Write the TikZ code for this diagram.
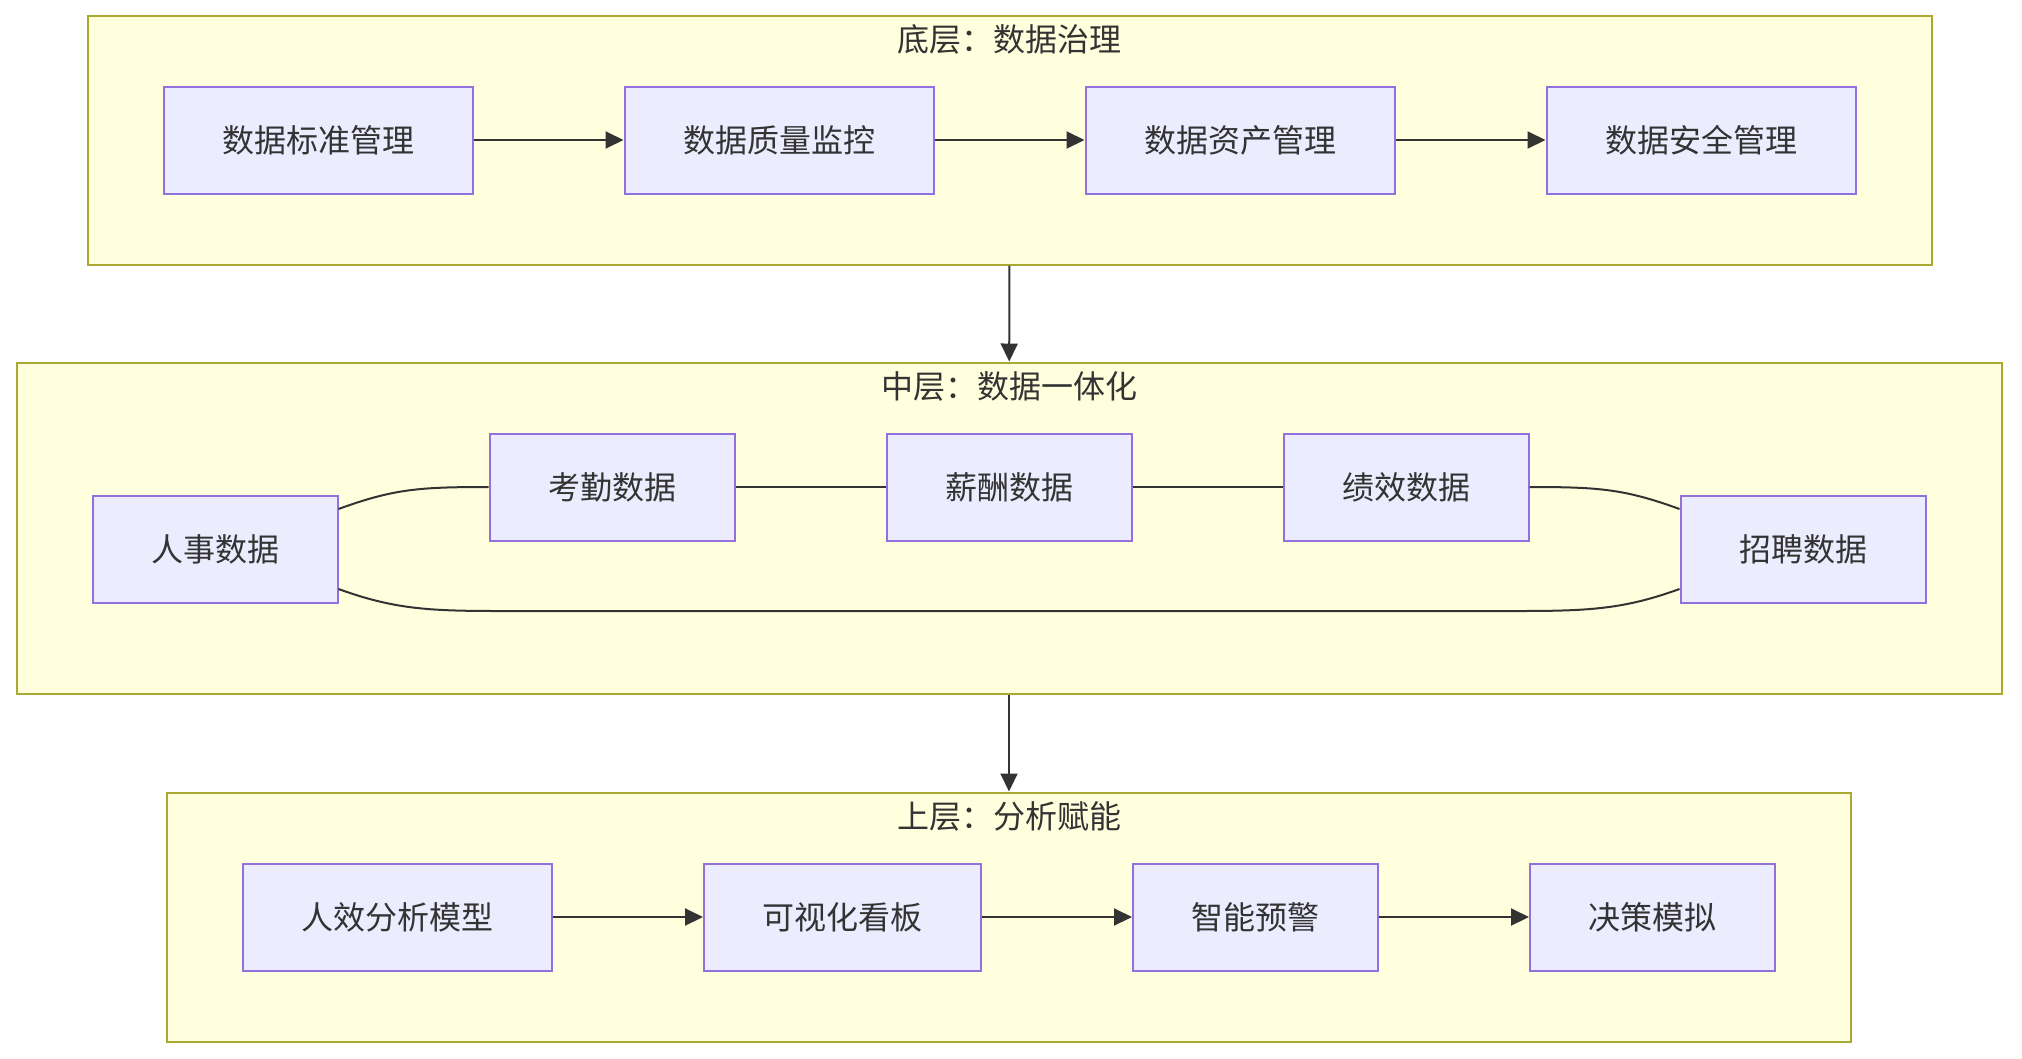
\documentclass[tikz,border=0pt]{standalone}
\usepackage{fontspec}
\newfontfamily\cjk{Noto Sans CJK SC}
\usetikzlibrary{positioning, arrows.meta, backgrounds, fit}
\definecolor{layerfill}{HTML}{FFFFDE}
\definecolor{layerline}{HTML}{AAAA33}
\definecolor{boxfill}{HTML}{ECECFF}
\definecolor{boxline}{HTML}{9370DB}
\definecolor{inkgray}{HTML}{333333}

\begin{document}
\begin{tikzpicture}[
    x=1pt, y=1pt,
    box/.style={draw=boxline, fill=boxfill, line width=2pt, rectangle, minimum height=107pt, inner xsep=58.5pt, inner ysep=0pt, text=inkgray, font=\cjk\fontsize{32}{38}\selectfont},
    layer/.style={draw=layerline, fill=layerfill, line width=2pt, rectangle, inner xsep=75pt, inner ysep=70pt},
    ltitle/.style={text=inkgray, inner sep=0pt, font=\cjk\fontsize{32}{38}\selectfont},
    arr/.style={-{Triangle[length=18pt, width=17pt]}, line width=2pt, draw=inkgray},
    link/.style={line width=2pt, draw=inkgray}
]
    \useasboundingbox (0,0) rectangle (2022,-1058);

    % Bottom layer: data governance
    \node[box] (std) at (318,-140) {数据标准管理};
    \node[box] (quality) [right=150pt of std] {数据质量监控};
    \node[box] (asset) [right=150pt of quality] {数据资产管理};
    \node[box] (secure) [right=150pt of asset] {数据安全管理};

    \draw[arr] (std) -- (quality);
    \draw[arr] (quality) -- (asset);
    \draw[arr] (asset) -- (secure);

    % Middle layer: data integration
    \node[box] (hr) at (215,-549) {人事数据};
    \node[box] (attend) at (612,-487) {考勤数据};
    \node[box] (salary) [right=150pt of attend] {薪酬数据};
    \node[box] (perf) [right=150pt of salary] {绩效数据};
    \node[box] (recruit) [right=150pt of perf, yshift=-62pt] {招聘数据};
    \coordinate (midfoot) at ([yshift=-20pt]hr.south);

    \draw[link] ([yshift=40pt]hr.east) .. controls +(55pt,20pt) and +(-70pt,0pt) .. (attend.west);
    \draw[link] (attend) -- (salary);
    \draw[link] (salary) -- (perf);
    \draw[link] (perf.east) .. controls +(70pt,0pt) and +(-55pt,20pt) .. ([yshift=40pt]recruit.west);
    \draw[link] ([yshift=-40pt]hr.east) .. controls +(55pt,-20pt) and +(-70pt,0pt) .. ([xshift=160pt,yshift=-62pt]hr.east)
        -- ([xshift=-160pt,yshift=-62pt]recruit.west) .. controls +(70pt,0pt) and +(-55pt,-20pt) .. ([yshift=-40pt]recruit.west);

    % Top layer: analytics enablement
    \node[box] (model) at (397.5,-917) {人效分析模型};
    \node[box] (board) [right=150pt of model] {可视化看板};
    \node[box] (alert) [right=150pt of board] {智能预警};
    \node[box] (decide) [right=150pt of alert] {决策模拟};

    \draw[arr] (model) -- (board);
    \draw[arr] (board) -- (alert);
    \draw[arr] (alert) -- (decide);

    % Layer frames
    \begin{scope}[on background layer]
        \node[layer, fit=(std)(secure)] (govern) {};
        \node[layer, fit=(hr)(attend)(recruit)(midfoot)] (integ) {};
        \node[layer, fit=(model)(decide)] (enable) {};
    \end{scope}
    \node[ltitle] (govtitle) at ([yshift=-25pt]govern.north) {底层：数据治理};
    \node[ltitle] (integtitle) at ([yshift=-25pt]integ.north) {中层：数据一体化};
    \node[ltitle] (enabletitle) at ([yshift=-25pt]enable.north) {上层：分析赋能};

    \draw[arr] (govern) -- (integ);
    \draw[arr] (integ) -- (enable);
\end{tikzpicture}
\end{document}
